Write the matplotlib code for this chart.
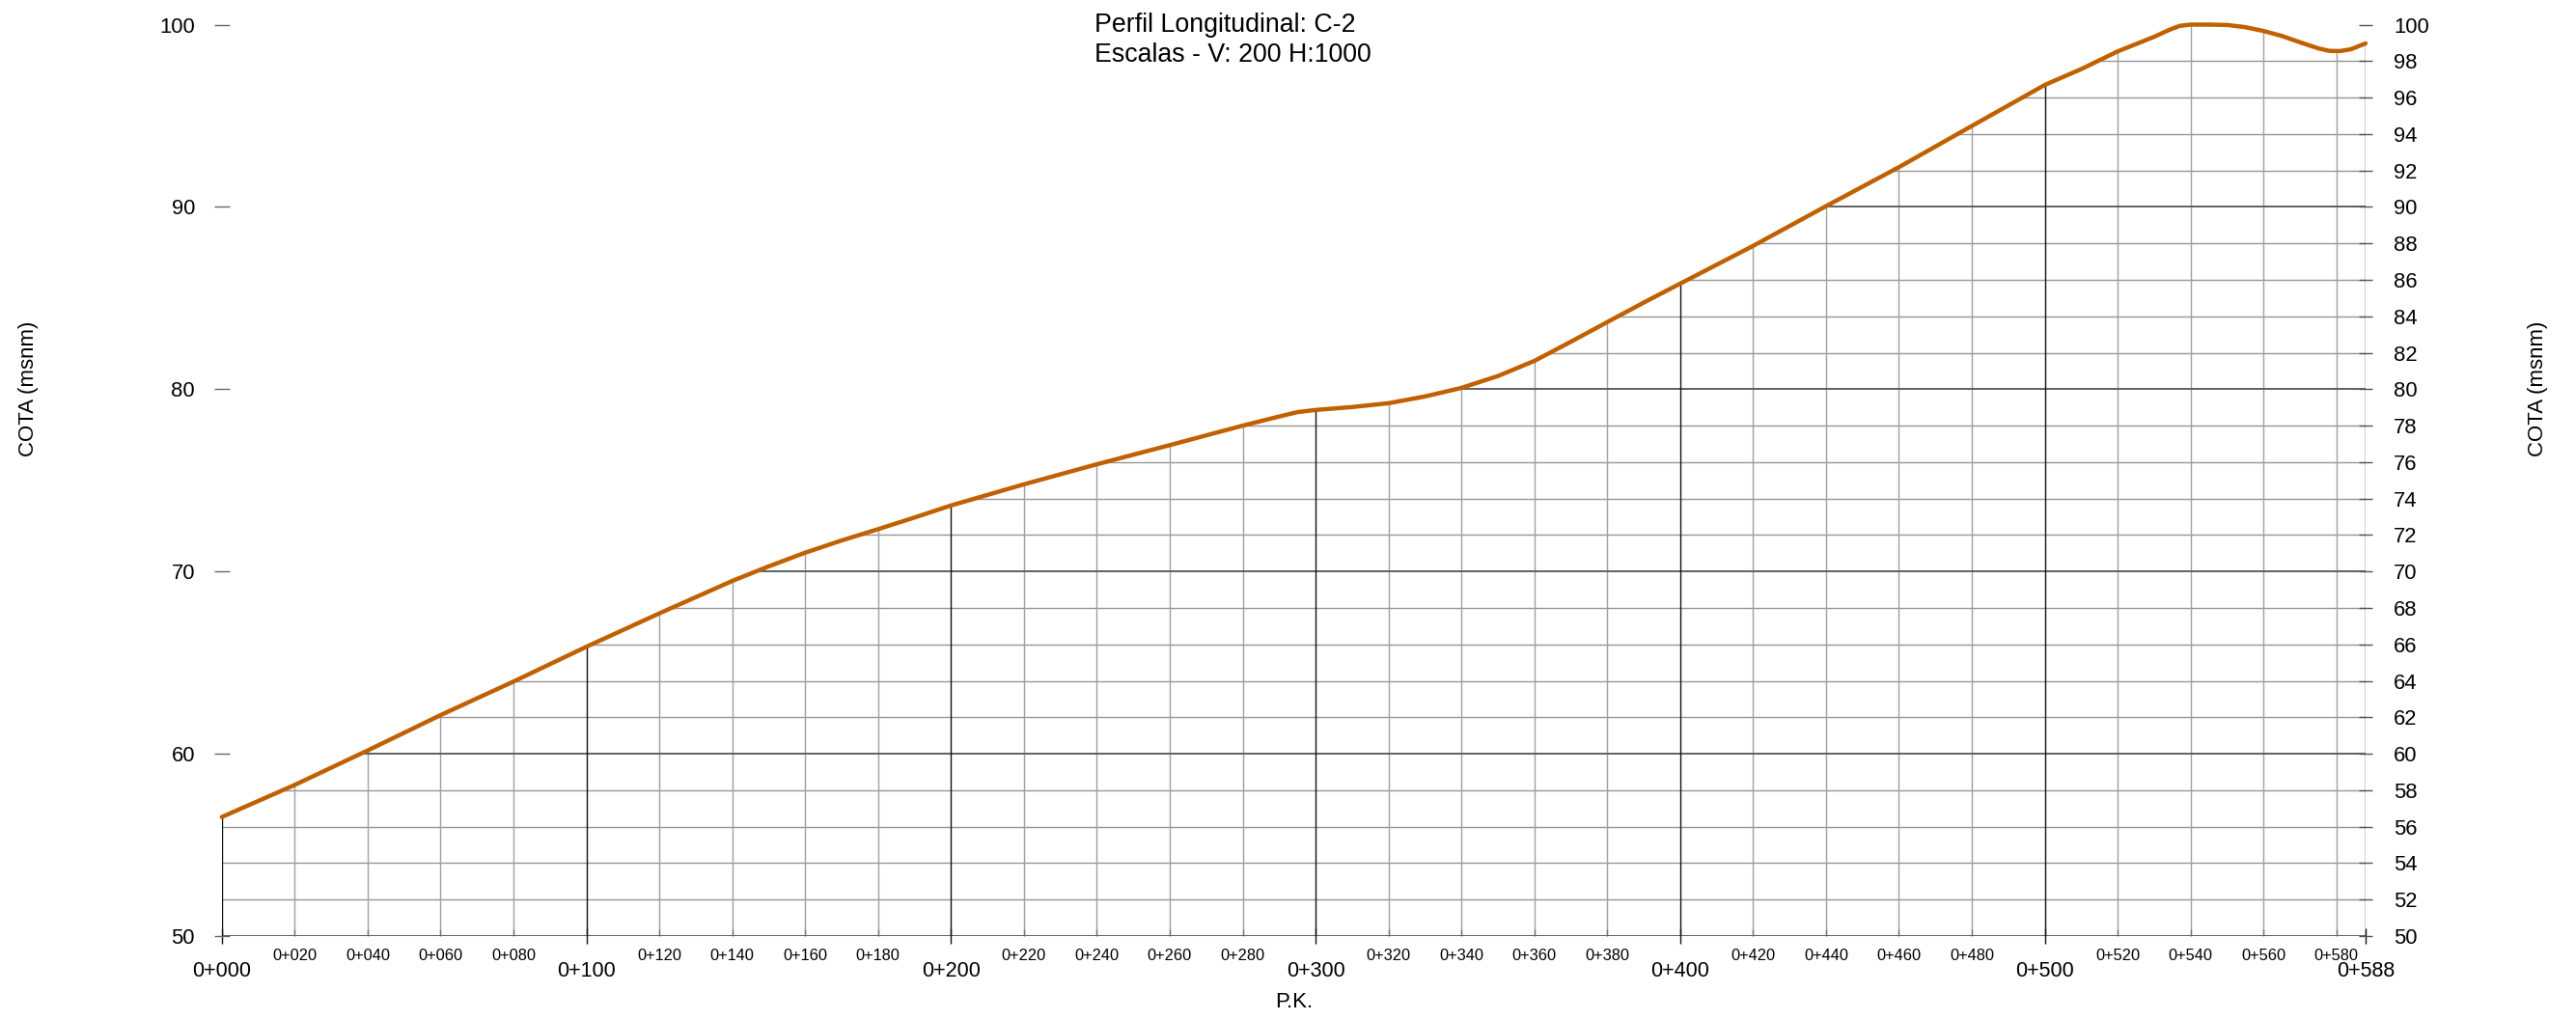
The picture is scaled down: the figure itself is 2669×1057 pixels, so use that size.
import numpy as np
import matplotlib
matplotlib.use("Agg")
import matplotlib.pyplot as plt
from matplotlib.patches import Polygon

# profile stations (m) and elevations (msnm)
pk = [0, 20, 40, 60, 80, 100, 120, 140, 150, 160, 170, 180, 190, 200,
      220, 240, 260, 280, 290, 295, 300, 310, 320, 330, 340, 350, 360,
      370, 380, 390, 400, 420, 440, 460, 480, 500, 510, 520, 530, 534,
      537, 540, 545, 550, 555, 560, 565, 570, 575, 578, 581, 584, 588]
cota = [56.53, 58.29, 60.18, 62.12, 63.96, 65.87, 67.70, 69.48, 70.28, 71.03,
        71.70, 72.32, 72.96, 73.62, 74.78, 75.88, 76.93, 78.00, 78.50, 78.74,
        78.86, 79.02, 79.23, 79.60, 80.07, 80.72, 81.55, 82.60, 83.68, 84.75,
        85.79, 87.86, 90.04, 92.18, 94.44, 96.69, 97.56, 98.53, 99.33, 99.70,
        99.93, 100.0, 100.0, 99.98, 99.86, 99.65, 99.38, 99.03, 98.70, 98.56,
        98.55, 98.65, 98.97]

pk_major = [0, 100, 200, 300, 400, 500, 588]
pk_minor = [v for v in range(20, 588, 20) if v % 100 != 0]
cota_left = list(range(50, 101, 10))
cota_right = list(range(50, 101, 2))

title = "Perfil Longitudinal: C-2\nEscalas - V: 200 H:1000"
ylabel = "COTA (msnm)"
xlabel = "P.K."

plt.rcParams["font.family"] = ["Liberation Sans", "DejaVu Sans"]

W, H = 2669, 1057
fig = plt.figure(figsize=(W / 100, H / 100), dpi=100)
ax = fig.add_axes([229.8 / W, 1 - 970 / H, (2451 - 229.8) / W, (970 - 25.5) / H])
ax.set_xlim(0, 588)
ax.set_ylim(50, 100)
for s in ax.spines.values():
    s.set_visible(False)

# area under the profile, used to clip the grid
verts = list(zip(pk, cota)) + [(588.6, cota[-1]), (588.6, 49.9), (-0.6, 49.9), (-0.6, cota[0])]
clip = Polygon(verts, closed=True, transform=ax.transData)

x0, x1 = -0.6, 588.6
h_minor = [v for v in cota_right if v % 10 != 0 and v < 100]
h_major = [v for v in cota_left if v < 100]
v_minor = pk_minor
v_major = pk_major

grid = [
    ax.hlines(h_minor, x0, x1, colors="#969696", lw=1.0, zorder=1),
    ax.vlines(v_minor, 49.9, 100, colors="#a0a0a0", lw=1.0, zorder=1),
    ax.hlines(h_major, x0, x1, colors="#606060", lw=1.4, zorder=2),
    ax.vlines(v_major, 49.9, 100, colors="#111111", lw=1.0, zorder=2),
]
for g in grid:
    g.set_clip_path(clip)

ax.plot(pk, cota, color="#c06000", lw=3.2, zorder=5, clip_on=False,
        solid_capstyle="round", solid_joinstyle="round")

# x ticks
ax.set_xticks(pk_major, [f"0+{v:03d}" for v in pk_major])
ax.set_xticks(pk_minor, [f"0+{v:03d}" for v in pk_minor], minor=True)
ax.tick_params(axis="x", which="major", direction="inout", length=11.5,
               width=1.0, color="#111111", pad=13, labelsize=15.5)
ax.tick_params(axis="x", which="minor", direction="in", length=5,
               width=1.0, color="#777777", pad=9.5, labelsize=11.8)

# left y ticks
ax.set_yticks(cota_left, [str(v) for v in cota_left])
ax.tick_params(axis="y", which="major", direction="inout", length=12,
               width=1.0, color="#666666", pad=14, labelsize=15.8)

# right y ticks
ax2 = ax.twinx()
ax2.set_ylim(50, 100)
for s in ax2.spines.values():
    s.set_visible(False)
ax2.set_yticks(cota_right, [str(v) for v in cota_right])
ax2.tick_params(axis="y", which="major", direction="inout", length=10,
                width=1.0, color="#555555", pad=16, labelsize=15.8)

fig.text(1134 / W, 1 - 13 / H, title, ha="left", va="top", fontsize=19.3,
         linespacing=1.25)
fig.text(29 / W, 1 - 403 / H, ylabel, rotation=90, ha="center", va="center",
         fontsize=16)
fig.text(2630 / W, 1 - 403 / H, ylabel, rotation=90, ha="center", va="center",
         fontsize=16)
fig.text(1341 / W, 1 - 1039 / H, xlabel, ha="center", va="center", fontsize=16)

fig.savefig("out.png", dpi=100, facecolor="white")
